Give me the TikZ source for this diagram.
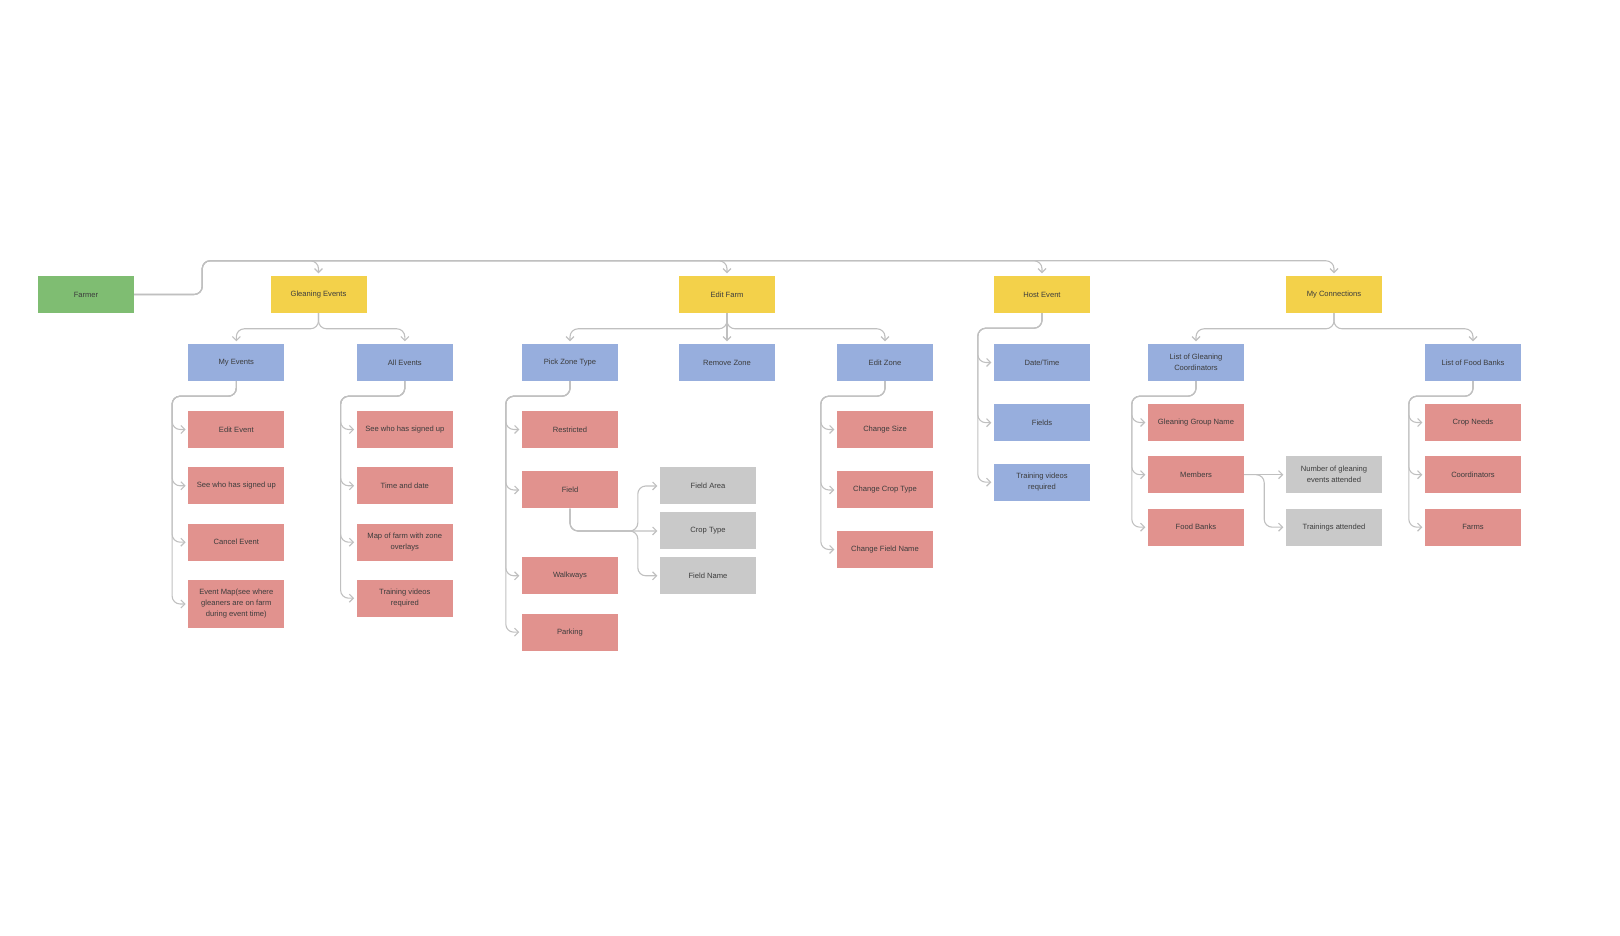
\documentclass[tikz,border=0pt]{standalone}
\usepackage{fontspec}
\setmainfont{Liberation Sans}
\usetikzlibrary{arrows.meta}

\definecolor{farmgreen}{RGB}{127,189,114}
\definecolor{topyellow}{RGB}{243,209,74}
\definecolor{midblue}{RGB}{151,174,221}
\definecolor{leafred}{RGB}{225,146,142}
\definecolor{sidegrey}{RGB}{201,201,201}
\definecolor{wiregrey}{RGB}{192,192,192}
\definecolor{labelgrey}{RGB}{60,60,60}

\begin{document}
\begin{tikzpicture}[x=1pt,y=1pt,
    box/.style = {rectangle, minimum width=96pt, minimum height=37pt,
        inner sep=2pt, align=center, text=labelgrey,
        font=\fontsize{7.6}{11}\selectfont},
    farmbox/.style = {box, fill=farmgreen},
    topbox/.style = {box, fill=topyellow},
    midbox/.style = {box, fill=midblue},
    leafbox/.style = {box, fill=leafred},
    greybox/.style = {box, fill=sidegrey},
    wire/.style = {draw=wiregrey, line width=1.1pt, rounded corners=8pt,
        -{Straight Barb[length=4pt,width=8pt]}, shorten >=2.5pt}]

\useasboundingbox (0,0) rectangle (1620,936);

% Farmer
\node[farmbox] (farmer) at (86,641.5) {Farmer};

% Top row
\node[topbox] (glean) at (318.5,641.5) {Gleaning Events};
\node[topbox] (editfarm) at (727,641.5) {Edit Farm};
\node[topbox] (host) at (1042,641.5) {Host Event};
\node[topbox] (conn) at (1334,641.5) {My Connections};

% Second row
\node[midbox] (myev) at (236.3,573.5) {My Events};
\node[midbox] (allev) at (404.8,573.5) {All Events};
\node[midbox] (pick) at (570,573.5) {Pick Zone Type};
\node[midbox] (remove) at (727,573.5) {Remove Zone};
\node[midbox] (editzone) at (885,573.5) {Edit Zone};
\node[midbox] (listgl) at (1196,573.5) {List of Gleaning\\Coordinators};
\node[midbox] (listfb) at (1473,573.5) {List of Food Banks};

% My Events
\node[leafbox] (ev1) at (236.3,506.5) {Edit Event};
\node[leafbox] (ev2) at (236.3,450.2) {See who has signed up};
\node[leafbox] (ev3) at (236.3,393.8) {Cancel Event};
\node[leafbox, minimum height=48pt] (ev4) at (236.3,332)
    {Event Map(see where\\gleaners are on farm\\during event time)};

% All Events
\node[leafbox] (al1) at (404.8,506.5) {See who has signed up};
\node[leafbox] (al2) at (404.8,450.2) {Time and date};
\node[leafbox] (al3) at (404.8,393.8) {Map of farm with zone\\overlays};
\node[leafbox] (al4) at (404.8,337.8) {Training videos\\required};

% Pick Zone Type
\node[leafbox] (restricted) at (570,506.5) {Restricted};
\node[leafbox] (field) at (570,446) {Field};
\node[leafbox] (walkways) at (570,360.2) {Walkways};
\node[leafbox] (parking) at (570,303.8) {Parking};
\node[greybox] (fieldarea) at (708,450) {Field Area};
\node[greybox] (croptype) at (708,405) {Crop Type};
\node[greybox] (fieldname) at (708,360.2) {Field Name};

% Edit Zone
\node[leafbox] (size) at (885,506.5) {Change Size};
\node[leafbox] (crop) at (885,446) {Change Crop Type};
\node[leafbox] (rename) at (885,386.5) {Change Field Name};

% Host Event
\node[midbox] (datetime) at (1042,573.5) {Date/Time};
\node[midbox] (fields) at (1042,513.3) {Fields};
\node[midbox] (videos) at (1042,453.8) {Training videos\\required};

% My Connections
\node[leafbox] (groupname) at (1196,513.5) {Gleaning Group Name};
\node[leafbox] (members) at (1196,461.3) {Members};
\node[leafbox] (foodbanks) at (1196,408.8) {Food Banks};
\node[greybox] (numgl) at (1334,461.3) {Number of gleaning\\events attended};
\node[greybox] (trainings) at (1334,408.8) {Trainings attended};
\node[leafbox] (cropneeds) at (1473,513.5) {Crop Needs};
\node[leafbox] (coords) at (1473,461.3) {Coordinators};
\node[leafbox] (farms) at (1473,408.8) {Farms};

% Farmer to top row
\foreach \t in {glean,editfarm,host,conn}
    \draw[wire] (farmer.east) -| ([xshift=68pt,yshift=15pt]farmer.east |- glean.north) -| (\t.north);

% Top row to second row
\foreach \p/\c in {glean/myev, glean/allev, editfarm/pick, editfarm/editzone,
    conn/listgl, conn/listfb}
    \draw[wire] (\p.south) |- ([yshift=15pt]\c.north) -- (\c.north);
\draw[wire] (editfarm.south) -- (remove.north);

% Side buses
\foreach \p/\c in {myev/ev1, myev/ev2, myev/ev3, myev/ev4,
    allev/al1, allev/al2, allev/al3, allev/al4,
    pick/restricted, pick/field, pick/walkways, pick/parking,
    editzone/size, editzone/crop, editzone/rename,
    host/datetime, host/fields, host/videos,
    listgl/groupname, listgl/members, listgl/foodbanks,
    listfb/cropneeds, listfb/coords, listfb/farms}
    \draw[wire] (\p.south) |- ([xshift=-16pt,yshift=-15pt]\c.west |- \p.south) |- (\c.west);

% Field details
\draw[wire] (field.south) |- (croptype.west);
\foreach \c in {fieldarea,fieldname}
    \draw[wire] (field.south) |- ([xshift=-22pt]croptype.west) |- (\c.west);

% Members details
\draw[wire] (members.east) -- (numgl.west);
\draw[wire] (members.east) -- ++(20,0) |- (trainings.west);
\end{tikzpicture}
\end{document}
